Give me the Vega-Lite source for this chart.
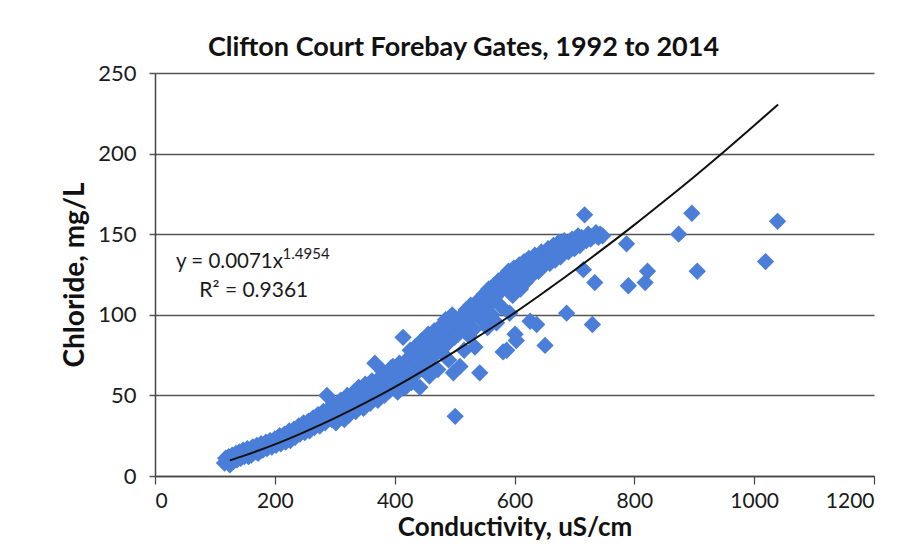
{
  "$schema": "https://vega.github.io/schema/vega-lite/v6.json",
  "width": 719,
  "height": 403,
  "autosize": {"type": "none"},
  "padding": {"left": 155, "top": 73, "right": 30, "bottom": 76},
  "background": "white",
  "config": {"view": {"stroke": null}, "font": "Lato"},
  "title": {"text": "Clifton Court Forebay Gates, 1992 to 2014", "font": "Lato", "fontSize": 27, "fontWeight": "bold", "color": "#111111", "anchor": "middle", "dx": -51, "offset": 0},
  "datasets": {
    "obs": [
      {"conductivity":116,"chloride":8},{"conductivity":118,"chloride":11},{"conductivity":121,"chloride":9},{"conductivity":123,"chloride":12},{"conductivity":125,"chloride":7},{"conductivity":127,"chloride":10},{"conductivity":129,"chloride":13},{"conductivity":131,"chloride":9},{"conductivity":133,"chloride":11},{"conductivity":135,"chloride":14},{"conductivity":137,"chloride":10},{"conductivity":139,"chloride":12},{"conductivity":141,"chloride":15},{"conductivity":143,"chloride":11},{"conductivity":145,"chloride":13},{"conductivity":147,"chloride":16},{"conductivity":149,"chloride":12},{"conductivity":152,"chloride":14},{"conductivity":154,"chloride":17},{"conductivity":156,"chloride":12},{"conductivity":158,"chloride":15},{"conductivity":161,"chloride":13},{"conductivity":163,"chloride":18},{"conductivity":165,"chloride":15},{"conductivity":168,"chloride":16},{"conductivity":170,"chloride":19},{"conductivity":172,"chloride":14},{"conductivity":175,"chloride":17},{"conductivity":177,"chloride":20},{"conductivity":180,"chloride":16},{"conductivity":182,"chloride":18},{"conductivity":185,"chloride":21},{"conductivity":187,"chloride":17},{"conductivity":190,"chloride":19},{"conductivity":192,"chloride":22},{"conductivity":195,"chloride":18},{"conductivity":197,"chloride":21},{"conductivity":200,"chloride":23},{"conductivity":202,"chloride":19},{"conductivity":205,"chloride":22},{"conductivity":208,"chloride":25},{"conductivity":210,"chloride":20},{"conductivity":213,"chloride":23},{"conductivity":216,"chloride":26},{"conductivity":218,"chloride":21},{"conductivity":221,"chloride":24},{"conductivity":224,"chloride":28},{"conductivity":226,"chloride":22},{"conductivity":229,"chloride":26},{"conductivity":232,"chloride":29},{"conductivity":234,"chloride":24},{"conductivity":237,"chloride":27},{"conductivity":240,"chloride":31},{"conductivity":242,"chloride":26},{"conductivity":245,"chloride":29},{"conductivity":248,"chloride":33},{"conductivity":250,"chloride":27},{"conductivity":253,"chloride":31},{"conductivity":256,"chloride":34},{"conductivity":258,"chloride":28},{"conductivity":261,"chloride":32},{"conductivity":264,"chloride":36},{"conductivity":266,"chloride":30},{"conductivity":269,"chloride":34},{"conductivity":272,"chloride":38},{"conductivity":275,"chloride":31},{"conductivity":278,"chloride":35},{"conductivity":281,"chloride":40},{"conductivity":284,"chloride":33},{"conductivity":287,"chloride":50},{"conductivity":289,"chloride":37},{"conductivity":292,"chloride":42},{"conductivity":295,"chloride":35},{"conductivity":298,"chloride":45},
      {"conductivity":300,"chloride":39},{"conductivity":302,"chloride":33},{"conductivity":305,"chloride":43},{"conductivity":308,"chloride":37},{"conductivity":310,"chloride":47},{"conductivity":313,"chloride":40},{"conductivity":316,"chloride":35},{"conductivity":318,"chloride":44},{"conductivity":321,"chloride":50},{"conductivity":324,"chloride":38},{"conductivity":326,"chloride":46},{"conductivity":329,"chloride":42},{"conductivity":332,"chloride":52},{"conductivity":335,"chloride":40},{"conductivity":337,"chloride":48},{"conductivity":340,"chloride":55},{"conductivity":343,"chloride":44},{"conductivity":345,"chloride":51},{"conductivity":348,"chloride":42},{"conductivity":351,"chloride":57},{"conductivity":354,"chloride":47},{"conductivity":356,"chloride":53},{"conductivity":359,"chloride":45},{"conductivity":362,"chloride":59},{"conductivity":364,"chloride":50},{"conductivity":367,"chloride":70},{"conductivity":369,"chloride":55},{"conductivity":372,"chloride":47},{"conductivity":375,"chloride":61},{"conductivity":377,"chloride":52},{"conductivity":380,"chloride":65},{"conductivity":383,"chloride":50},{"conductivity":385,"chloride":58},{"conductivity":388,"chloride":63},{"conductivity":391,"chloride":53},{"conductivity":394,"chloride":67},{"conductivity":397,"chloride":68},{"conductivity":399,"chloride":57},{"conductivity":402,"chloride":62},{"conductivity":405,"chloride":52},{"conductivity":408,"chloride":70},{"conductivity":410,"chloride":60},{"conductivity":414,"chloride":86},{"conductivity":416,"chloride":65},{"conductivity":418,"chloride":55},
      {"conductivity":420,"chloride":72},{"conductivity":423,"chloride":62},{"conductivity":426,"chloride":78},{"conductivity":428,"chloride":58},{"conductivity":431,"chloride":68},{"conductivity":434,"chloride":80},{"conductivity":437,"chloride":64},{"conductivity":440,"chloride":75},{"conductivity":442,"chloride":55},{"conductivity":445,"chloride":84},{"conductivity":448,"chloride":70},{"conductivity":451,"chloride":68},{"conductivity":453,"chloride":78},{"conductivity":456,"chloride":88},{"conductivity":458,"chloride":62},{"conductivity":461,"chloride":82},{"conductivity":464,"chloride":74},{"conductivity":466,"chloride":90},{"conductivity":469,"chloride":79},{"conductivity":472,"chloride":66},{"conductivity":474,"chloride":86},{"conductivity":477,"chloride":93},{"conductivity":480,"chloride":76},{"conductivity":482,"chloride":89},{"conductivity":485,"chloride":97},{"conductivity":488,"chloride":82},{"conductivity":490,"chloride":72},{"conductivity":493,"chloride":92},{"conductivity":496,"chloride":100},{"conductivity":498,"chloride":64},{"conductivity":500,"chloride":86},{"conductivity":501,"chloride":37},{"conductivity":503,"chloride":95},{"conductivity":506,"chloride":88},{"conductivity":509,"chloride":68},{"conductivity":511,"chloride":99},{"conductivity":514,"chloride":92},{"conductivity":516,"chloride":78},{"conductivity":519,"chloride":103},{"conductivity":522,"chloride":96},{"conductivity":524,"chloride":87},{"conductivity":527,"chloride":106},{"conductivity":530,"chloride":99},{"conductivity":532,"chloride":91},{"conductivity":534,"chloride":80},{"conductivity":537,"chloride":108},{"conductivity":540,"chloride":102},{"conductivity":542,"chloride":64},{"conductivity":545,"chloride":110},{"conductivity":547,"chloride":96},{"conductivity":550,"chloride":113},{"conductivity":552,"chloride":104},{"conductivity":555,"chloride":92},{"conductivity":557,"chloride":116},{"conductivity":560,"chloride":108},
      {"conductivity":562,"chloride":100},{"conductivity":565,"chloride":118},{"conductivity":568,"chloride":111},{"conductivity":570,"chloride":95},{"conductivity":573,"chloride":121},{"conductivity":575,"chloride":114},{"conductivity":578,"chloride":105},{"conductivity":581,"chloride":77},{"conductivity":583,"chloride":124},{"conductivity":585,"chloride":117},{"conductivity":587,"chloride":78},{"conductivity":590,"chloride":127},{"conductivity":592,"chloride":101},{"conductivity":594,"chloride":120},{"conductivity":597,"chloride":112},{"conductivity":599,"chloride":129},{"conductivity":601,"chloride":88},{"conductivity":603,"chloride":84},{"conductivity":605,"chloride":122},{"conductivity":608,"chloride":131},{"conductivity":610,"chloride":116},{"conductivity":613,"chloride":126},{"conductivity":616,"chloride":133},{"conductivity":618,"chloride":120},{"conductivity":621,"chloride":128},{"conductivity":624,"chloride":135},{"conductivity":626,"chloride":96},{"conductivity":628,"chloride":124},{"conductivity":631,"chloride":131},{"conductivity":634,"chloride":137},{"conductivity":637,"chloride":94},{"conductivity":640,"chloride":127},{"conductivity":642,"chloride":134},{"conductivity":645,"chloride":139},{"conductivity":648,"chloride":130},{"conductivity":651,"chloride":81},{"conductivity":653,"chloride":136},{"conductivity":656,"chloride":141},{"conductivity":659,"chloride":132},{"conductivity":662,"chloride":138},{"conductivity":665,"chloride":143},{"conductivity":668,"chloride":134},{"conductivity":671,"chloride":140},{"conductivity":674,"chloride":145},{"conductivity":677,"chloride":136},{"conductivity":680,"chloride":142},{"conductivity":683,"chloride":146},{"conductivity":687,"chloride":101},{"conductivity":690,"chloride":139},{"conductivity":693,"chloride":144},{"conductivity":696,"chloride":147},{"conductivity":700,"chloride":141},{"conductivity":703,"chloride":146},{"conductivity":706,"chloride":149},{"conductivity":709,"chloride":143},{"conductivity":712,"chloride":148},{"conductivity":715,"chloride":128},{"conductivity":717,"chloride":162},{"conductivity":720,"chloride":146},{"conductivity":723,"chloride":150},{"conductivity":727,"chloride":147},{"conductivity":730,"chloride":94},{"conductivity":733,"chloride":149},{"conductivity":734,"chloride":120},{"conductivity":736,"chloride":151},{"conductivity":740,"chloride":148},{"conductivity":743,"chloride":150},{"conductivity":747,"chloride":149},
      {"conductivity":787,"chloride":144},{"conductivity":790,"chloride":118},{"conductivity":818,"chloride":120},{"conductivity":822,"chloride":127},{"conductivity":874,"chloride":150},{"conductivity":896,"chloride":163},{"conductivity":905,"chloride":127},{"conductivity":1019,"chloride":133},{"conductivity":1039,"chloride":158}
    ],
    "fit": [
      {"conductivity":125,"chloride":9.7},{"conductivity":150,"chloride":12.8},{"conductivity":200,"chloride":19.6},{"conductivity":250,"chloride":27.4},{"conductivity":300,"chloride":35.9},{"conductivity":350,"chloride":45.2},{"conductivity":400,"chloride":55.2},{"conductivity":450,"chloride":65.9},{"conductivity":500,"chloride":77.2},{"conductivity":550,"chloride":89.0},{"conductivity":600,"chloride":101.2},{"conductivity":650,"chloride":114.2},{"conductivity":700,"chloride":127.6},{"conductivity":750,"chloride":141.5},{"conductivity":800,"chloride":155.8},{"conductivity":850,"chloride":170.6},{"conductivity":900,"chloride":185.7},{"conductivity":950,"chloride":201.3},{"conductivity":1000,"chloride":217.4},{"conductivity":1040,"chloride":230.5}
    ],
    "one": [{}]
  },
  "layer": [
    {
      "data": {"name": "obs"},
      "mark": {"type": "point", "shape": "diamond", "filled": true, "size": 300, "color": "#4a7ed8", "opacity": 1, "strokeWidth": 0},
      "encoding": {
        "x": {"field": "conductivity", "type": "quantitative", "title": "Conductivity, uS/cm",
              "scale": {"domain": [0, 1200], "nice": false, "zero": true},
              "axis": {"values": [0, 200, 400, 600, 800, 1000, 1200], "format": "d", "grid": false, "domain": true, "domainColor": "#444444", "domainWidth": 1.5, "ticks": true, "tickColor": "#444444", "tickWidth": 1.2, "tickSize": 8, "labelFont": "Lato", "labelFontSize": 21, "labelColor": "#1a1a1a", "labelPadding": 6, "titleFont": "Lato", "titleFontSize": 26, "titleFontWeight": "bold", "titleColor": "#111111", "titlePadding": 3}},
        "y": {"field": "chloride", "type": "quantitative", "title": "Chloride, mg/L",
              "scale": {"domain": [0, 250], "nice": false},
              "axis": {"values": [0, 50, 100, 150, 200, 250], "format": "d", "grid": true, "gridColor": "#555555", "gridWidth": 1.5, "domain": true, "domainColor": "#444444", "domainWidth": 1.5, "ticks": true, "tickColor": "#555555", "tickWidth": 1.5, "tickSize": 6, "labelFont": "Lato", "labelFontSize": 22, "labelColor": "#1a1a1a", "labelPadding": 13, "titleFont": "Lato", "titleFontSize": 28, "titleFontWeight": "bold", "titleColor": "#111111", "titlePadding": 8}}
      }
    },
    {
      "data": {"name": "fit"},
      "mark": {"type": "line", "color": "#111111", "strokeWidth": 2, "interpolate": "monotone"},
      "encoding": {
        "x": {"field": "conductivity", "type": "quantitative", "title": "Conductivity, uS/cm"},
        "y": {"field": "chloride", "type": "quantitative", "title": "Chloride, mg/L"}
      }
    },
    {
      "data": {"name": "one"},
      "mark": {"type": "text", "text": "y = 0.0071x", "font": "Lato", "fontSize": 20.5, "color": "#1a1a1a", "align": "left", "baseline": "middle"},
      "encoding": {
        "x": {"datum": 35, "type": "quantitative", "title": "Conductivity, uS/cm"},
        "y": {"datum": 132.5, "type": "quantitative", "title": "Chloride, mg/L"}
      }
    },
    {
      "data": {"name": "one"},
      "mark": {"type": "text", "text": "1.4954", "font": "Lato", "fontSize": 15, "color": "#1a1a1a", "align": "left", "baseline": "middle"},
      "encoding": {
        "x": {"datum": 213, "type": "quantitative", "title": "Conductivity, uS/cm"},
        "y": {"datum": 137.5, "type": "quantitative", "title": "Chloride, mg/L"}
      }
    },
    {
      "data": {"name": "one"},
      "mark": {"type": "text", "text": "R² = 0.9361", "font": "Lato", "fontSize": 21, "color": "#1a1a1a", "align": "left", "baseline": "middle"},
      "encoding": {
        "x": {"datum": 74, "type": "quantitative", "title": "Conductivity, uS/cm"},
        "y": {"datum": 115, "type": "quantitative", "title": "Chloride, mg/L"}
      }
    }
  ]
}
